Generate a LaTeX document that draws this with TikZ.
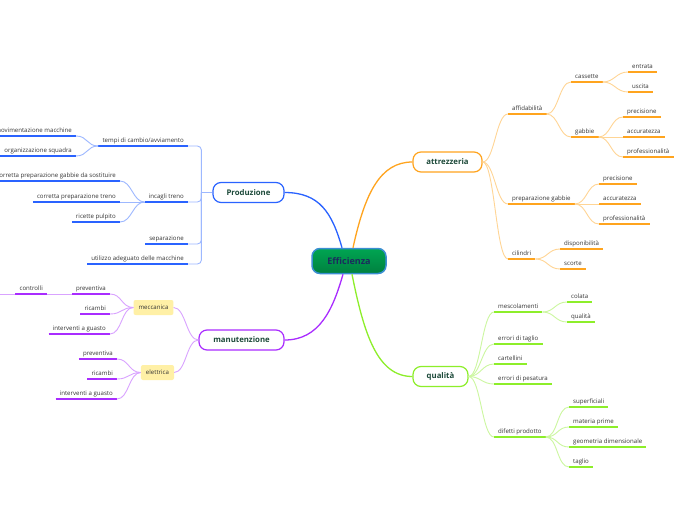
\documentclass[tikz,border=0pt]{standalone}
\usepackage{fontspec}
\setmainfont{Open Sans}
\usetikzlibrary{positioning}

\definecolor{prodblue}{HTML}{2A63FF}
\definecolor{prodlight}{HTML}{9DB8FF}
\definecolor{attorange}{HTML}{FFA41E}
\definecolor{attlight}{HTML}{FFD595}
\definecolor{manpurple}{HTML}{A92CFF}
\definecolor{manlight}{HTML}{D9A3FF}
\definecolor{qualgreen}{HTML}{8DEE2A}
\definecolor{quallight}{HTML}{CCF7A0}
\definecolor{nodetext}{HTML}{1D4A3A}
\definecolor{itemtext}{HTML}{333333}
\definecolor{efftop}{HTML}{00A552}
\definecolor{effbot}{HTML}{00803F}
\definecolor{effborder}{HTML}{3A8ED2}
\definecolor{efftext}{HTML}{1B2B5E}
\definecolor{subyellow}{HTML}{FFF0A6}

\begin{document}
\begin{tikzpicture}[x=1pt, y=-1pt,
  every node/.style={font=\fontsize{6.1}{7}\selectfont},
  centre/.style={draw=effborder, line width=1.5pt, rounded corners=8pt,
                 top color=efftop, bottom color=effbot,
                 minimum width=74pt, minimum height=25pt,
                 font=\fontsize{9}{10}\selectfont\bfseries, text=efftext},
  main/.style={draw, line width=1.2pt, fill=white, rounded corners=8pt,
               minimum height=20pt,
               font=\fontsize{7.8}{9}\selectfont\bfseries, text=nodetext},
  sub/.style={fill=subyellow, rounded corners=2pt, minimum height=15pt,
              inner xsep=5pt, text=itemtext},
  item/.style={inner xsep=4pt, inner ysep=2pt, text depth=1.2pt, text=itemtext},
  ul/.style={append after command={(\tikzlastnode.south west)
             edge[draw=#1, line width=1.6pt] (\tikzlastnode.south east)}},
  pitem/.style={item, anchor=south east, ul=prodblue},
  mitem/.style={item, anchor=south east, ul=manpurple},
  aitem/.style={item, anchor=south west, ul=attorange},
  qitem/.style={item, anchor=south west, ul=qualgreen},
  mainlink/.style={draw=#1, line width=1.3pt},
  plink/.style={draw=prodlight, line width=0.9pt},
  mlink/.style={draw=manlight, line width=0.9pt},
  alink/.style={draw=attlight, line width=0.9pt},
  qlink/.style={draw=quallight, line width=0.9pt},
  tor/.style={out=0, in=180, distance=12pt},
  tol/.style={out=180, in=0, distance=12pt}
]
\path[use as bounding box, fill=white] (0,0) rectangle (696,520);

%% ---- CENTRE AND MAIN TOPICS ----------------------------------
\node[centre] (eff) at (349,261) {Efficienza};

\node[main, draw=prodblue,  minimum width=71pt] (prod) at (248.5,192.5) {Produzione};
\node[main, draw=manpurple, minimum width=85pt] (manu) at (241.5,340)   {manutenzione};
\node[main, draw=attorange, minimum width=69pt] (attr) at (447.5,162)   {attrezzeria};
\node[main, draw=qualgreen, minimum width=55pt] (qual) at (440.5,376.5) {qualità};

\draw[mainlink=prodblue]  ([xshift=-7pt]eff.north) .. controls +(-10,-35) and +(35,0) .. (prod.east);
\draw[mainlink=attorange] ([xshift=4pt]eff.north)  .. controls +(12,-55) and +(-32,0) .. (attr.west);
\draw[mainlink=manpurple] ([xshift=-6pt]eff.south) .. controls +(-10,35) and +(35,0) .. (manu.east);
\draw[mainlink=qualgreen] ([xshift=3pt]eff.south)  .. controls +(12,60) and +(-35,0) .. (qual.west);

%% ---- PRODUZIONE ----------------------------------------------
\node[pitem] (tempi)    at (188,146) {tempi di cambio/avviamento};
\node[pitem] (incagli)  at (188,202) {incagli treno};
\node[pitem] (separ)    at (188,244) {separazione};
\node[pitem] (utilizzo) at (188,264) {utilizzo adeguato delle macchine};

\node[pitem] (movim)   at (76,136)  {movimentazione macchine};
\node[pitem] (organ)   at (76,156)  {organizzazione squadra};
\node[pitem] (corrgab) at (120,181) {corretta preparazione gabbie da sostituire};
\node[pitem] (corrtr)  at (120,202) {corretta preparazione treno};
\node[pitem] (ricette) at (120,222) {ricette pulpito};

\coordinate (pj) at ([xshift=-11pt]prod.west);
\draw[plink] (prod.west) -- (pj);
\draw[plink, rounded corners=4pt] (pj) |- (tempi.south east);
\draw[plink, rounded corners=4pt] (pj) |- (incagli.south east);
\draw[plink, rounded corners=4pt] (pj) |- (separ.south east);
\draw[plink, rounded corners=4pt] (pj) |- (utilizzo.south east);

\draw[plink] (tempi.south west)   to[tol] (movim.south east);
\draw[plink] (tempi.south west)   to[tol] (organ.south east);
\draw[plink] (incagli.south west) to[tol] (corrgab.south east);
\draw[plink] (incagli.south west) to[tol] (corrtr.south east);
\draw[plink] (incagli.south west) to[tol] (ricette.south east);

%% ---- MANUTENZIONE --------------------------------------------
\node[sub] (mecc) at (153.5,307.5) {meccanica};
\node[sub] (elet) at (157.5,372.5) {elettrica};

\draw[mlink] (manu.west) to[tol] (mecc.east);
\draw[mlink] (manu.west) to[tol] (elet.east);

\node[mitem] (mprev) at (110,294) {preventiva};
\node[mitem] (mric)  at (110,314) {ricambi};
\node[mitem] (mint)  at (110,334) {interventi a guasto};
\node[mitem] (ctrl)  at (47,294)  {controlli};
\coordinate (offleft) at (-20,294);

\node[mitem] (eprev) at (117,359) {preventiva};
\node[mitem] (eric)  at (117,379) {ricambi};
\node[mitem] (eint)  at (117,399) {interventi a guasto};

\draw[mlink] (mecc.west) to[tol] (mprev.south east);
\draw[mlink] (mecc.west) to[tol] (mric.south east);
\draw[mlink] (mecc.west) to[tol] (mint.south east);
\draw[mlink] (mprev.south west) -- (ctrl.south east);
\draw[mlink] (ctrl.south west) -- (offleft);

\draw[mlink] (elet.west) to[tol] (eprev.south east);
\draw[mlink] (elet.west) to[tol] (eric.south east);
\draw[mlink] (elet.west) to[tol] (eint.south east);

%% ---- ATTREZZERIA ---------------------------------------------
\node[aitem] (affid) at (508,114) {affidabilità};
\node[aitem] (cass)  at (571,82)  {cassette};
\node[aitem] (entr)  at (628,72)  {entrata};
\node[aitem] (usc)   at (628,92)  {uscita};
\node[aitem] (gab)   at (571,137) {gabbie};
\node[aitem] (gprec) at (623,117) {precisione};
\node[aitem] (gacc)  at (623,137) {accuratezza};
\node[aitem] (gprof) at (623,157) {professionalità};

\node[aitem] (prep)  at (508,204) {preparazione gabbie};
\node[aitem] (pprec) at (599,184) {precisione};
\node[aitem] (pacc)  at (599,204) {accuratezza};
\node[aitem] (pprof) at (599,224) {professionalità};

\node[aitem] (cil)   at (508,259) {cilindri};
\node[aitem] (disp)  at (560,249) {disponibilità};
\node[aitem] (scor)  at (560,269) {scorte};

\draw[alink] (attr.east) to[tor] (affid.south west);
\draw[alink] (attr.east) to[tor] (prep.south west);
\draw[alink] (attr.east) to[tor] (cil.south west);

\draw[alink] (affid.south east) to[tor] (cass.south west);
\draw[alink] (affid.south east) to[tor] (gab.south west);
\draw[alink] (cass.south east)  to[tor] (entr.south west);
\draw[alink] (cass.south east)  to[tor] (usc.south west);
\draw[alink] (gab.south east)   to[tor] (gprec.south west);
\draw[alink] (gab.south east)   to[tor] (gacc.south west);
\draw[alink] (gab.south east)   to[tor] (gprof.south west);

\draw[alink] (prep.south east) to[tor] (pprec.south west);
\draw[alink] (prep.south east) to[tor] (pacc.south west);
\draw[alink] (prep.south east) to[tor] (pprof.south west);

\draw[alink] (cil.south east) to[tor] (disp.south west);
\draw[alink] (cil.south east) to[tor] (scor.south west);

%% ---- QUALITA -------------------------------------------------
\node[qitem] (mesc)  at (494,312) {mescolamenti};
\node[qitem] (colat) at (567,302) {colata};
\node[qitem] (qmesc) at (567,322) {qualità};
\node[qitem] (ertag) at (494,344) {errori di taglio};
\node[qitem] (cart)  at (494,364) {cartellini};
\node[qitem] (erpes) at (494,384) {errori di pesatura};
\node[qitem] (difet) at (494,437) {difetti prodotto};
\node[qitem] (sup)   at (569,407) {superficiali};
\node[qitem] (mat)   at (569,427) {materia prime};
\node[qitem] (geo)   at (569,447) {geometria dimensionale};
\node[qitem] (tagl)  at (569,467) {taglio};

\draw[qlink] (qual.east) to[tor] (mesc.south west);
\draw[qlink] (qual.east) to[tor] (ertag.south west);
\draw[qlink] (qual.east) to[tor] (cart.south west);
\draw[qlink] (qual.east) to[tor] (erpes.south west);
\draw[qlink] (qual.east) to[tor] (difet.south west);

\draw[qlink] (mesc.south east) to[tor] (colat.south west);
\draw[qlink] (mesc.south east) to[tor] (qmesc.south west);
\draw[qlink] (difet.south east) to[tor] (sup.south west);
\draw[qlink] (difet.south east) to[tor] (mat.south west);
\draw[qlink] (difet.south east) to[tor] (geo.south west);
\draw[qlink] (difet.south east) to[tor] (tagl.south west);

\end{tikzpicture}
\end{document}
